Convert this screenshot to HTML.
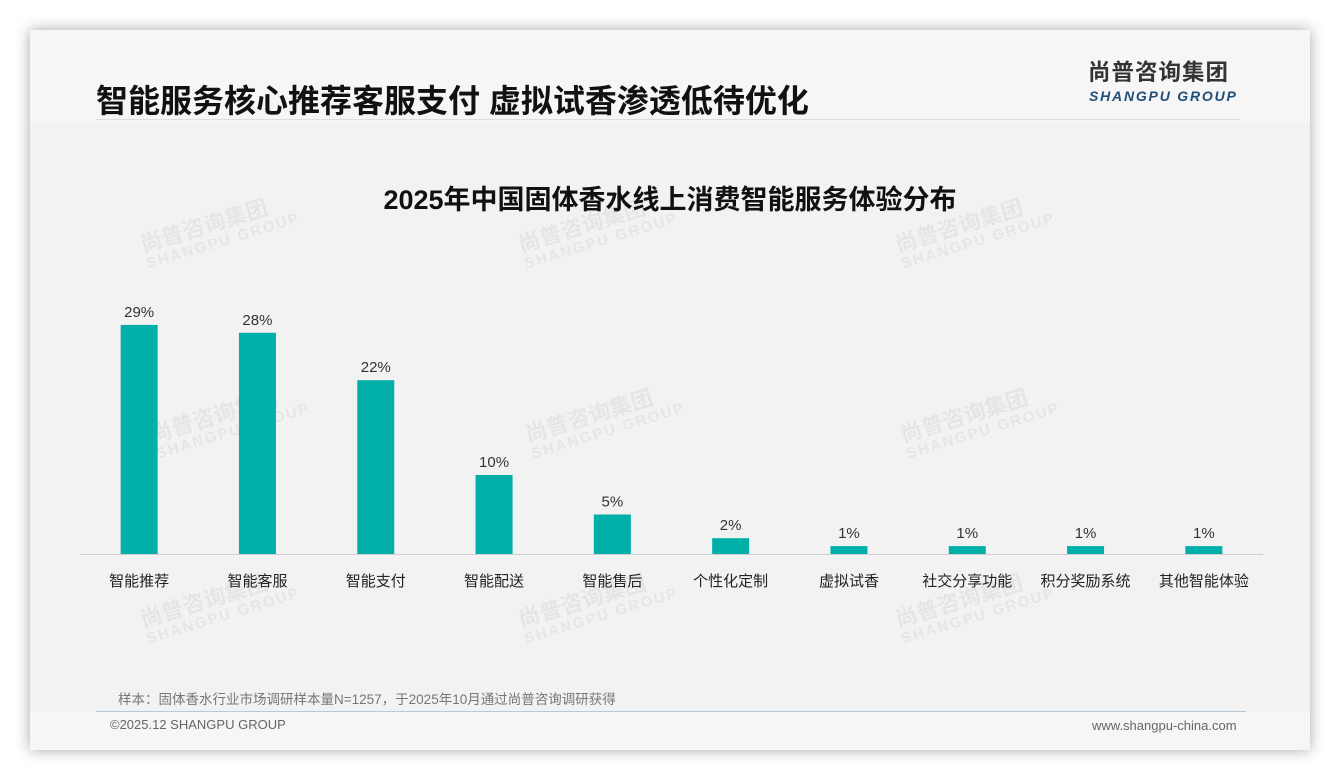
<!DOCTYPE html>
<html><head><meta charset="utf-8"><style>
body{margin:0;width:1340px;height:780px;background:#fff;position:relative;overflow:hidden;font-family:"Liberation Sans","Noto Sans CJK SC",sans-serif}
#card{position:absolute;left:30px;top:30px;width:1280px;height:720px;background:#f6f6f6;box-shadow:0 0 14px rgba(0,0,0,.35)}
#plot{position:absolute;left:30px;top:122px;width:1280px;height:590px;background:#f2f2f2}
.abs{position:absolute}
.wm{position:absolute;color:rgba(0,0,0,.05);font-weight:bold;transform:rotate(-17deg);line-height:1.05;white-space:nowrap}
</style></head><body>
<div id="card"></div>
<div id="plot"></div>
<div class="abs" style="left:96px;top:76px;font-size:32px;font-weight:bold;color:#111">智能服务核心推荐客服支付 虚拟试香渗透低待优化</div>
<div class="abs" style="left:96px;top:119px;width:1144px;height:1px;background:#ddd"></div>
<div class="abs" style="left:1088px;top:59px;font-size:22.5px;font-weight:bold;color:#333;letter-spacing:1px;line-height:28px">尚普咨询集团</div>
<div class="abs" style="left:1089px;top:88px;font-size:14px;font-weight:bold;font-style:italic;color:#1f4e79;letter-spacing:1.8px">SHANGPU GROUP</div>
<div class="abs" style="left:0;width:1340px;text-align:center;top:178px;font-size:27px;font-weight:bold;color:#111">2025年中国固体香水线上消费智能服务体验分布</div>
<div id="wms"></div>
<svg class="abs" style="left:0;top:0" width="1340" height="780" id="chart"></svg>
<div class="abs" style="left:118px;top:688px;font-size:13.5px;color:#777">样本：固体香水行业市场调研样本量N=1257，于2025年10月通过尚普咨询调研获得</div>
<div class="abs" style="left:96px;top:711px;width:1150px;height:1px;background:#b8c8d4"></div>
<div class="abs" style="left:110px;top:717px;font-size:13px;color:#666">©2025.12 SHANGPU GROUP</div>
<div class="abs" style="left:1092px;top:718px;font-size:13px;color:#666">www.shangpu-china.com</div>
<script>
const categories=["智能推荐","智能客服","智能支付","智能配送","智能售后","个性化定制","虚拟试香","社交分享功能","积分奖励系统","其他智能体验"];
const values=[29,28,22,10,5,2,1,1,1,1];
const valueLabels=["29%","28%","22%","10%","5%","2%","1%","1%","1%","1%"];
const NS="http://www.w3.org/2000/svg";
const svg=document.getElementById('chart');
const x0=80,x1=1263,base=554,pxPer=7.9,bw=37;
const step=(x1-x0)/categories.length;
const xc=i=>x0+step*(i+0.5);
const y=v=>base-v*pxPer;
function mk(t,a){const e=document.createElementNS(NS,t);for(const k in a)e.setAttribute(k,a[k]);svg.appendChild(e);return e;}
const ax=mk('line',{x1:x0,x2:x1,y1:base+0.5,y2:base+0.5,stroke:'#d0d0d0','stroke-width':1});


categories.forEach((c,i)=>{
  const r=mk('rect',{x:xc(i)-bw/2,y:y(values[i]),width:bw,height:base-y(values[i]),fill:'#00b0a8'});
  
  
  const v=mk('text',{x:xc(i),y:y(values[i])-8,'text-anchor':'middle','font-size':15,fill:'#333','font-family':'Liberation Sans,sans-serif'});
  v.textContent=valueLabels[i];
  
  
  const l=mk('text',{x:xc(i),y:586,'text-anchor':'middle','font-size':15,fill:'#222','font-family':'Liberation Sans,Noto Sans CJK SC,sans-serif'});
  l.textContent=c;
  
  
});
const wp=[[140,210],[518,210],[895,210],[150,400],[525,400],[900,400],[140,585],[518,585],[895,585]];
const w=document.getElementById('wms');
wp.forEach(p=>{const d=document.createElement('div');d.className='wm';d.style.left=p[0]+'px';d.style.top=p[1]+'px';
d.innerHTML='<span style="font-size:22px">尚普咨询集团</span><br><span style="font-size:15px;letter-spacing:2px">SHANGPU GROUP</span>';


w.appendChild(d);});
</script>
</body></html>
